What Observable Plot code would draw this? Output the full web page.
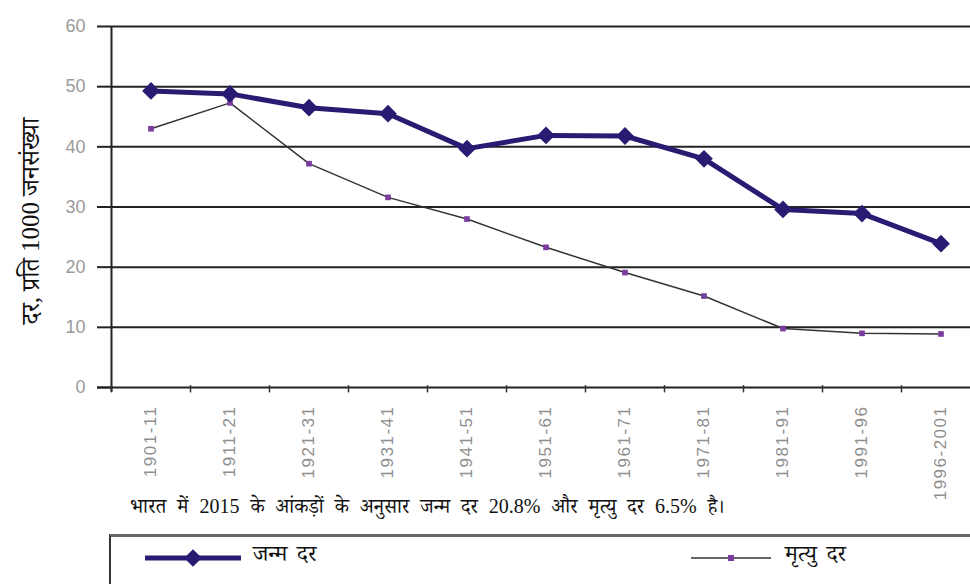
<!DOCTYPE html>
<html><head><meta charset="utf-8">
<script src="https://cdn.jsdelivr.net/npm/d3@7"></script>
<script src="https://cdn.jsdelivr.net/npm/@observablehq/plot@0.6"></script>
<style>
html,body{margin:0;padding:0;background:#fff;}
body{width:970px;height:584px;overflow:hidden;position:relative;}
#chart{position:absolute;left:0;top:0;}
#chart .xl text, #chart text.xl{letter-spacing:1.5px;}
#caption{position:absolute;left:130px;top:494px;font-family:"Liberation Serif","Noto Serif Devanagari",serif;font-size:20px;word-spacing:6px;color:#111;white-space:nowrap;}
#legend{position:absolute;left:109px;top:534px;width:880px;height:60px;border-top:3px solid #666;border-left:2px solid #333;}
.lg{position:absolute;top:3px;display:flex;align-items:center;font-family:"Liberation Serif","Noto Serif Devanagari",serif;font-size:23px;word-spacing:4px;color:#111;white-space:nowrap;}
</style></head>
<body>
<div id="chart"></div>
<div id="caption"></div>
<div id="legend"></div>
<script>
const periods = ["1901-11","1911-21","1921-31","1931-41","1941-51","1951-61","1961-71","1971-81","1981-91","1991-96","1996-2001"];
const birthRate = [49.3, 48.8, 46.5, 45.5, 39.7, 41.9, 41.8, 38.0, 29.6, 28.9, 23.9];
const deathRate = [43.0, 47.3, 37.2, 31.6, 28.0, 23.3, 19.1, 15.2, 9.8, 9.0, 8.9];
const yTicks = [0, 10, 20, 30, 40, 50, 60];
const seriesNames = ["जन्म दर", "मृत्यु दर"];
const yTitle = "दर, प्रति 1000 जनसंख्या";
const captionText = "भारत में 2015 के आंकड़ों के अनुसार जन्म दर 20.8% और मृत्यु दर 6.5% है।";

const birthColor = "#2b1a72";
const deathDot = "#7a3c9e";
const deathLine = "#333";

const rows = periods.map((p, i) => ({i, period: p, birth: birthRate[i], death: deathRate[i]}));
const boundaries = d3.range(periods.length).map(i => i - 0.5);

const chart = Plot.plot({
  width: 970,
  height: 490,
  marginLeft: 111,
  marginRight: 0,
  marginTop: 26,
  marginBottom: 103,
  x: {domain: [-0.5, periods.length - 0.5], range: [111, 980], axis: null},
  y: {domain: [0, 60]},
  style: {background: "#fff", overflow: "visible", fontFamily: "'Liberation Sans', Arial, sans-serif"},
  marks: [
    Plot.ruleY(yTicks.filter(v => v > 0), {x1: -0.5, x2: periods.length - 0.5, stroke: "#222", strokeWidth: 2}),
    Plot.axisY({ticks: yTicks, tickSize: 14, tickPadding: 12, stroke: "#222", strokeWidth: 2, fill: "#9a9a9a", fontSize: 18, label: null}),
    Plot.ruleY([0], {x1: -0.5 - 14 / 79, x2: periods.length - 0.5, stroke: "#222", strokeWidth: 2}),
    Plot.ruleX([-0.5], {y1: -0.8, y2: 60, stroke: "#222", strokeWidth: 2}),
    Plot.ruleX(boundaries, {x: d => d, y1: -0.9, y2: 0.3, stroke: "#333", strokeWidth: 1.5}),
    Plot.text(periods, {x: (d, i) => i, y: 0, dy: 18, rotate: -90, textAnchor: "end", lineAnchor: "middle", fill: "#8f8f8f", fontSize: 17, className: "xl"}),
    Plot.line(rows, {x: "i", y: "death", stroke: deathLine, strokeWidth: 1.5}),
    Plot.dot(rows, {x: "i", y: "death", symbol: "square", r: 3.2, fill: deathDot, stroke: "none"}),
    Plot.line(rows, {x: "i", y: "birth", stroke: birthColor, strokeWidth: 5, strokeLinejoin: "round"}),
    Plot.dot(rows, {x: "i", y: "birth", symbol: "diamond2", r: 8, fill: birthColor, stroke: "none"}),
    Plot.text([yTitle], {frameAnchor: "left", dx: -81, dy: 14, rotate: -90, textAnchor: "middle", fontSize: 25, fill: "#111", fontFamily: "'Liberation Serif', 'Noto Serif Devanagari', serif"})
  ]
});
document.getElementById("chart").appendChild(chart);
document.getElementById("caption").textContent = captionText;

const legend = document.getElementById("legend");
function item(left, lineW, thick, color, marker, name, gap) {
  const d = document.createElement("div");
  d.className = "lg";
  d.style.left = left + "px";
  const svg = d3.create("svg").attr("width", lineW + gap).attr("height", 34);
  svg.append("line").attr("x1", 0).attr("x2", lineW).attr("y1", 17).attr("y2", 17)
    .attr("stroke", thick ? birthColor : deathLine).attr("stroke-width", thick ? 5 : 1.5);
  if (marker === "diamond") {
    svg.append("path").attr("d", d3.symbol(d3.symbolDiamond2, 200)()).attr("transform", `translate(${lineW / 2},17)`).attr("fill", color);
  } else {
    svg.append("rect").attr("x", lineW / 2 - 3).attr("y", 14).attr("width", 6).attr("height", 6).attr("fill", color);
  }
  d.appendChild(svg.node());
  const s = document.createElement("span");
  s.textContent = name;
  d.appendChild(s);
  legend.appendChild(d);
}
item(34, 96, true, birthColor, "diamond", seriesNames[0], 12);
item(580, 80, false, deathDot, "square", seriesNames[1], 14);
</script>
</body></html>
